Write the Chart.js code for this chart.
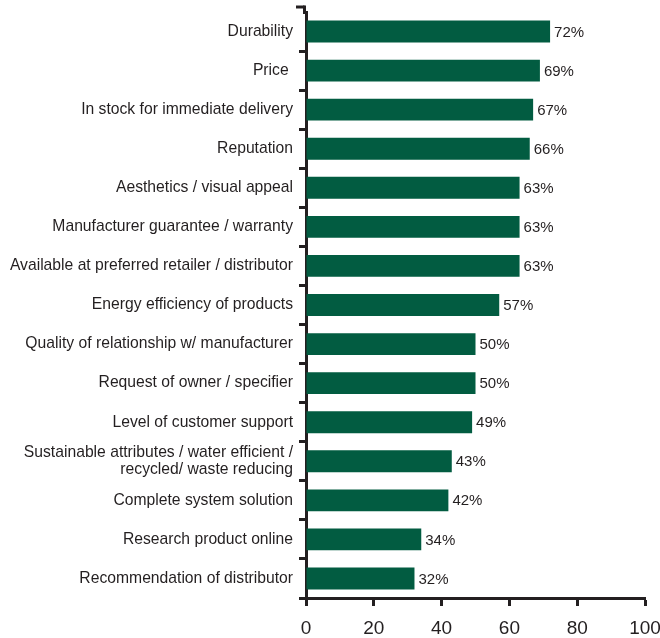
<!DOCTYPE html>
<html><head><meta charset="utf-8">
<script src="https://cdn.jsdelivr.net/npm/chart.js@4/dist/chart.umd.min.js"></script>
<style>html,body{margin:0;padding:0;background:#fff}#wrap{width:660px;height:638px}</style>
</head><body><div id="wrap"><canvas id="c" width="660" height="638"></canvas></div>
<script>
const categories = [
  "Durability",
  "Price ",
  "In stock for immediate delivery",
  "Reputation",
  "Aesthetics / visual appeal",
  "Manufacturer guarantee / warranty",
  "Available at preferred retailer / distributor",
  "Energy efficiency of products",
  "Quality of relationship w/ manufacturer",
  "Request of owner / specifier",
  "Level of customer support",
  ["Sustainable attributes / water efficient /", "recycled/ waste reducing"],
  "Complete system solution",
  "Research product online",
  "Recommendation of distributor"
];
const values = [72, 69, 67, 66, 63, 63, 63, 57, 50, 50, 49, 43, 42, 34, 32];
const xTicks = [0, 20, 40, 60, 80, 100];

const ink = '#231f20';
const FONT = 'Liberation Sans';

const valueLabels = {
  id: 'valueLabels',
  afterDatasetsDraw(chart) {
    const ctx = chart.ctx;
    const meta = chart.getDatasetMeta(0);
    ctx.save();
    ctx.fillStyle = ink;
    ctx.font = '15px "' + FONT + '"';
    ctx.textBaseline = 'middle';
    ctx.textAlign = 'left';
    meta.data.forEach((bar, i) => {
      ctx.fillText(values[i] + '%', bar.x + 4, bar.y + 1);
    });
    ctx.restore();
  }
};

// extends the y axis line a little above the plot area, ending in a tick
const axisCap = {
  id: 'axisCap',
  afterDraw(chart) {
    const ctx = chart.ctx;
    const y = chart.scales.y;
    const top = chart.chartArea.top;
    const ext = 5;
    const x = y.right - 1.5;
    ctx.save();
    ctx.strokeStyle = ink;
    ctx.lineWidth = 3;
    ctx.beginPath();
    ctx.moveTo(x, top + 2);
    ctx.lineTo(x, top - ext - 1.5);
    ctx.stroke();
    ctx.beginPath();
    ctx.moveTo(x, top - ext);
    ctx.lineTo(x - 8.5, top - ext);
    ctx.stroke();
    ctx.restore();
  }
};

new Chart(document.getElementById('c'), {
  type: 'bar',
  data: {
    labels: categories,
    datasets: [{
      data: values,
      backgroundColor: '#025c41',
      borderWidth: 0,
      barPercentage: 0.56,
      categoryPercentage: 1.0
    }]
  },
  options: {
    indexAxis: 'y',
    responsive: false,
    animation: false,
    layout: { padding: { top: 12, right: 15, left: 0, bottom: 0 } },
    plugins: { legend: { display: false }, tooltip: { enabled: false } },
    scales: {
      x: {
        min: 0, max: 100,
        afterBuildTicks(scale) { scale.ticks = xTicks.map(v => ({ value: v })); },
        ticks: { color: ink, font: { family: FONT, size: 19 }, padding: 11 },
        grid: { drawOnChartArea: false, drawTicks: true, tickLength: 8, tickWidth: 3, tickColor: ink },
        border: { display: true, color: ink, width: 3 },
        afterFit(scale) { scale.height = 40; scale.paddingLeft = 0; scale.paddingRight = 0; }
      },
      y: {
        offset: true,
        ticks: { color: ink, font: { family: FONT, size: 15.7, lineHeight: 1.1 }, padding: 6, autoSkip: false },
        grid: { offset: true, drawOnChartArea: false, drawTicks: true, tickLength: 7, tickWidth: 3,
                tickColor: c => (c.index === 0 ? 'rgba(0,0,0,0)' : ink) },
        border: { display: true, color: ink, width: 3 },
        afterFit(scale) { scale.width = 306; scale.paddingTop = 0; scale.paddingBottom = 0; }
      }
    }
  },
  plugins: [valueLabels, axisCap]
});
</script></body></html>
